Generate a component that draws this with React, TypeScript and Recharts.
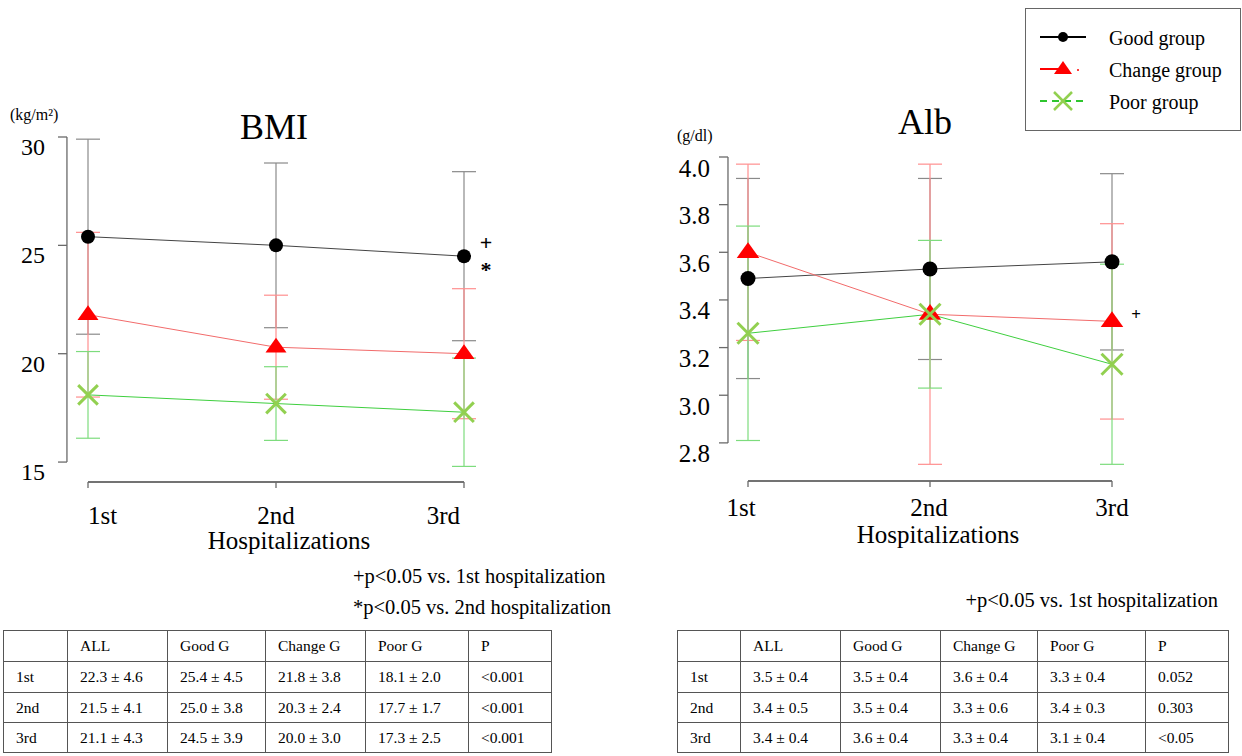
import React from "react";
import { LineChart, Line, XAxis, YAxis, ErrorBar, ReferenceLine } from "recharts";

const visits = ["1st", "2nd", "3rd"];

// BMI (kg/m2), mean and SD per hospitalization
const bmiGood = [25.4, 25.0, 24.5];
const bmiGoodSd = [4.5, 3.8, 3.9];
const bmiChange = [21.8, 20.3, 20.0];
const bmiChangeSd = [3.8, 2.4, 3.0];
const bmiPoor = [18.1, 17.7, 17.3];
const bmiPoorSd = [2.0, 1.7, 2.5];

// Alb (g/dl)
const albGood = [3.49, 3.53, 3.56];
const albGoodSd = [0.42, 0.38, 0.37];
const albChange = [3.6, 3.34, 3.31];
const albChangeSd = [0.37, 0.63, 0.41];
const albPoor = [3.26, 3.34, 3.13];
const albPoorSd = [0.45, 0.31, 0.42];

const bmiTicks = [15, 20, 25, 30];
const albTicks = [2.8, 3.0, 3.2, 3.4, 3.6, 3.8, 4.0];

const tableHeader = ["", "ALL", "Good G", "Change G", "Poor G", "P"];
const bmiTable = [
  ["1st", "22.3 ± 4.6", "25.4 ± 4.5", "21.8 ± 3.8", "18.1 ± 2.0", "<0.001"],
  ["2nd", "21.5 ± 4.1", "25.0 ± 3.8", "20.3 ± 2.4", "17.7 ± 1.7", "<0.001"],
  ["3rd", "21.1 ± 4.3", "24.5 ± 3.9", "20.0 ± 3.0", "17.3 ± 2.5", "<0.001"],
];
const albTable = [
  ["1st", "3.5 ± 0.4", "3.5 ± 0.4", "3.6 ± 0.4", "3.3 ± 0.4", "0.052"],
  ["2nd", "3.4 ± 0.5", "3.5 ± 0.4", "3.3 ± 0.6", "3.4 ± 0.3", "0.303"],
  ["3rd", "3.4 ± 0.4", "3.6 ± 0.4", "3.3 ± 0.4", "3.1 ± 0.4", "<0.05"],
];

const SERIF = '"Liberation Serif", "Times New Roman", serif';
const AXIS = "#6a6a6a";
const GOOD = { line: "#444", bar: "#8a8a8a", mark: "#000" };
const CHANGE = { line: "#f26b6b", bar: "#ff8f8f", mark: "#ff0000" };
const POOR = { line: "#3fcf3f", bar: "#7ddc7d", mark: "#92d050" };

function buildRows(
  good: number[], goodSd: number[],
  change: number[], changeSd: number[],
  poor: number[], poorSd: number[],
) {
  return visits.map((_, i) => ({
    x: i + 1,
    good: good[i], goodSd: goodSd[i],
    change: change[i], changeSd: changeSd[i],
    poor: poor[i], poorSd: poorSd[i],
  }));
}

const bmiRows = buildRows(bmiGood, bmiGoodSd, bmiChange, bmiChangeSd, bmiPoor, bmiPoorSd);
const albRows = buildRows(albGood, albGoodSd, albChange, albChangeSd, albPoor, albPoorSd);

const circleDot = (r: number) => (p: any) => (
  <circle key={`c-${p.index}`} cx={p.cx} cy={p.cy} r={r} fill={GOOD.mark} />
);
const triangleDot = (s: number) => (p: any) => (
  <polygon
    key={`t-${p.index}`}
    points={`${p.cx},${p.cy - s * 0.9} ${p.cx + s},${p.cy + s * 0.5} ${p.cx - s},${p.cy + s * 0.5}`}
    fill={CHANGE.mark}
  />
);
const crossDot = (s: number) => (p: any) => (
  <g key={`x-${p.index}`} stroke={POOR.mark} strokeWidth={3}>
    <line x1={p.cx - s} y1={p.cy - s} x2={p.cx + s} y2={p.cy + s} />
    <line x1={p.cx - s} y1={p.cy + s} x2={p.cx + s} y2={p.cy - s} />
  </g>
);

interface PanelProps {
  rows: ReturnType<typeof buildRows>;
  width: number;
  height: number;
  margin: { top: number; right: number; bottom: number; left: number };
  yWidth: number;
  yDomain: [number, number];
  yTicks: number[];
  yAxisX: number;
  yTickGap: number;
  yLabelGap: number;
  yLabelDy: number;
  yFont: number;
  fmt: (v: number) => string;
  xLabelDy: number;
  xLabelDx: number[];
  xAnchors: string[];
  markSize: number;
}

function Panel(props: PanelProps) {
  const { rows, yTicks, fmt } = props;
  const yTick = ({ x, y, payload }: any) => (
    <g>
      <line
        x1={x - props.yTickGap}
        x2={x - props.yTickGap - 9}
        y1={y}
        y2={y}
        stroke={AXIS}
        strokeWidth={1.3}
      />
      <text
        x={x - props.yLabelGap}
        y={y + props.yLabelDy}
        textAnchor="end"
        dominantBaseline="central"
        fontSize={props.yFont}
        fontFamily={SERIF}
        fill="#000"
      >
        {fmt(payload.value)}
      </text>
    </g>
  );
  // y here is the bottom edge of the plot area (tickSize and tickMargin are 0);
  // the x domain is exactly [1, 3], so the first tick plus the axis width spans the axis
  const xTick = ({ x, y, payload, index, width }: any) => (
    <g>
      {index === 0 && typeof width === "number" && (
        <line x1={x} x2={x + width} y1={y} y2={y} stroke={AXIS} strokeWidth={1.3} />
      )}
      <line x1={x} x2={x} y1={y} y2={y + 6} stroke={AXIS} strokeWidth={1.3} />
      <text
        x={x + props.xLabelDx[index]}
        y={y + 6 + props.xLabelDy}
        textAnchor={props.xAnchors[index] as any}
        dominantBaseline="central"
        fontSize={25}
        fontFamily={SERIF}
        fill="#000"
      >
        {visits[payload.value - 1]}
      </text>
    </g>
  );

  return (
    <LineChart width={props.width} height={props.height} data={rows} margin={props.margin}>
      <XAxis
        dataKey="x"
        type="number"
        domain={[1, 3]}
        ticks={[1, 2, 3]}
        height={60}
        axisLine={{ stroke: AXIS, strokeWidth: 1.3 }}
        tickLine={false}
        tickSize={0}
        tickMargin={0}
        tick={xTick}
      />
      <YAxis
        type="number"
        domain={props.yDomain}
        ticks={yTicks}
        width={props.yWidth}
        axisLine={false}
        tickLine={false}
        tickSize={0}
        tickMargin={0}
        tick={yTick}
        interval={0}
      />
      <ReferenceLine
        segment={[
          { x: props.yAxisX, y: yTicks[0] },
          { x: props.yAxisX, y: yTicks[yTicks.length - 1] },
        ]}
        stroke={AXIS}
        strokeWidth={1.3}
        ifOverflow="visible"
      />
      <Line
        type="linear"
        dataKey="good"
        stroke={GOOD.line}
        strokeWidth={1}
        dot={circleDot(props.markSize)}
        activeDot={false}
        isAnimationActive={false}
      >
        <ErrorBar dataKey="goodSd" width={12} stroke={GOOD.bar} strokeWidth={1.2} direction="y" isAnimationActive={false} />
      </Line>
      <Line
        type="linear"
        dataKey="change"
        stroke={CHANGE.line}
        strokeWidth={1}
        dot={triangleDot(props.markSize * 1.5)}
        activeDot={false}
        isAnimationActive={false}
      >
        <ErrorBar dataKey="changeSd" width={12} stroke={CHANGE.bar} strokeWidth={1.2} direction="y" isAnimationActive={false} />
      </Line>
      <Line
        type="linear"
        dataKey="poor"
        stroke={POOR.line}
        strokeWidth={1}
        dot={crossDot(props.markSize * 1.4)}
        activeDot={false}
        isAnimationActive={false}
      >
        <ErrorBar dataKey="poorSd" width={12} stroke={POOR.bar} strokeWidth={1.2} direction="y" isAnimationActive={false} />
      </Line>
    </LineChart>
  );
}

function Txt({ x, y, size, anchor = "start", bold = false, children }: any) {
  const shift = anchor === "middle" ? "-50%" : anchor === "end" ? "-100%" : "0";
  return (
    <div
      style={{
        position: "absolute",
        left: x,
        top: y,
        transform: `translate(${shift}, -50%)`,
        fontSize: size,
        lineHeight: 1,
        whiteSpace: "nowrap",
        fontWeight: bold ? 700 : 400,
        fontFamily: SERIF,
        color: "#000",
      }}
    >
      {children}
    </div>
  );
}

function StatTable({ left, widths, rows }: { left: number; widths: number[]; rows: string[][] }) {
  const heights = [32, 32, 31, 31];
  const cell = (h: number): React.CSSProperties => ({
    border: "1px solid #555",
    padding: "0 0 0 12px",
    height: h - 1,
    fontSize: 15.5,
    fontFamily: SERIF,
    textAlign: "left",
    whiteSpace: "nowrap",
    boxSizing: "border-box",
  });
  return (
    <table
      style={{
        position: "absolute",
        left,
        top: 630,
        borderCollapse: "collapse",
        tableLayout: "fixed",
        width: widths.reduce((a, b) => a + b, 0),
      }}
    >
      <colgroup>
        {widths.map((w, i) => (
          <col key={i} style={{ width: w }} />
        ))}
      </colgroup>
      <tbody>
        {[tableHeader, ...rows].map((r, ri) => (
          <tr key={ri}>
            {r.map((c, ci) => (
              <td key={ci} style={cell(heights[ri])}>
                {c}
              </td>
            ))}
          </tr>
        ))}
      </tbody>
    </table>
  );
}

function LegendBox() {
  const rowsY = [29, 61, 93];
  return (
    <svg
      width={216}
      height={123}
      style={{ position: "absolute", left: 1025, top: 8 }}
    >
      <rect x={0.5} y={0.5} width={215} height={122} fill="#fff" stroke="#666" />
      <line x1={15} x2={61} y1={rowsY[0]} y2={rowsY[0]} stroke="#000" strokeWidth={2} />
      <circle cx={38} cy={rowsY[0]} r={5} fill="#000" />
      <line x1={15} x2={40} y1={rowsY[1]} y2={rowsY[1]} stroke="#ff0000" strokeWidth={2} />
      <polygon
        points={`38,${rowsY[1] - 8} 47,${rowsY[1] + 5} 29,${rowsY[1] + 5}`}
        fill="#ff0000"
      />
      <circle cx={53} cy={rowsY[1] + 1} r={1} fill="#ff0000" />
      <line x1={15} x2={61} y1={rowsY[2]} y2={rowsY[2]} stroke="#2ec52e" strokeWidth={2} strokeDasharray="7 5" />
      <g stroke={POOR.mark} strokeWidth={2.5}>
        <line x1={29} y1={rowsY[2] - 9} x2={47} y2={rowsY[2] + 9} />
        <line x1={29} y1={rowsY[2] + 9} x2={47} y2={rowsY[2] - 9} />
      </g>
      {["Good group", "Change group", "Poor group"].map((t, i) => (
        <text
          key={t}
          x={84}
          y={rowsY[i] + 1}
          dominantBaseline="central"
          fontSize={20}
          fontFamily={SERIF}
          fill="#000"
        >
          {t}
        </text>
      ))}
    </svg>
  );
}

export default function App() {
  return (
    <div
      style={{
        position: "absolute",
        left: 0,
        top: 0,
        width: 1242,
        height: 756,
        overflow: "hidden",
        background: "#fff",
        fontFamily: SERIF,
      }}
    >
      <div style={{ position: "absolute", left: 0, top: 0 }}>
        <Panel
          rows={bmiRows}
          width={520}
          height={600}
          margin={{ top: 137, right: 56, bottom: 58, left: 0 }}
          yWidth={88}
          yDomain={[14.08, 30]}
          yTicks={bmiTicks}
          yAxisX={0.888}
          yTickGap={21}
          yLabelGap={43}
          yLabelDy={10}
          yFont={24}
          fmt={(v) => String(v)}
          xLabelDy={27}
          xLabelDx={[0, 0, -4]}
          xAnchors={["start", "middle", "end"]}
          markSize={7}
        />
      </div>
      <div style={{ position: "absolute", left: 620, top: 0 }}>
        <Panel
          rows={albRows}
          width={622}
          height={600}
          margin={{ top: 157, right: 130, bottom: 59, left: 0 }}
          yWidth={128}
          yDomain={[2.64, 4.0]}
          yTicks={albTicks}
          yAxisX={0.89}
          yTickGap={20}
          yLabelGap={38}
          yLabelDy={11}
          yFont={25}
          fmt={(v) => v.toFixed(1)}
          xLabelDy={20}
          xLabelDx={[-7, -1, 0]}
          xAnchors={["middle", "middle", "middle"]}
          markSize={7.5}
        />
      </div>

      <Txt x={10} y={115} size={16}>(kg/m²)</Txt>
      <Txt x={274} y={127} size={36} anchor="middle">BMI</Txt>
      <Txt x={289} y={540} size={25} anchor="middle">Hospitalizations</Txt>
      <Txt x={486} y={243} size={22} anchor="middle" bold>+</Txt>
      <Txt x={486} y={270} size={22} anchor="middle" bold>*</Txt>

      <Txt x={677} y={136} size={16}>(g/dl)</Txt>
      <Txt x={925} y={122} size={36} anchor="middle">Alb</Txt>
      <Txt x={938} y={534} size={25} anchor="middle">Hospitalizations</Txt>
      <Txt x={1136} y={314} size={17} anchor="middle" bold>+</Txt>

      <Txt x={353} y={576} size={20.5}>+p&lt;0.05 vs. 1st hospitalization</Txt>
      <Txt x={353} y={607} size={20.5}>*p&lt;0.05 vs. 2nd hospitalization</Txt>
      <Txt x={1218} y={600} size={20.5} anchor="end">+p&lt;0.05 vs. 1st hospitalization</Txt>

      <LegendBox />

      <StatTable left={3} widths={[64, 100, 98, 100, 103, 83]} rows={bmiTable} />
      <StatTable left={677} widths={[63, 100, 100, 97, 108, 83]} rows={albTable} />
    </div>
  );
}
